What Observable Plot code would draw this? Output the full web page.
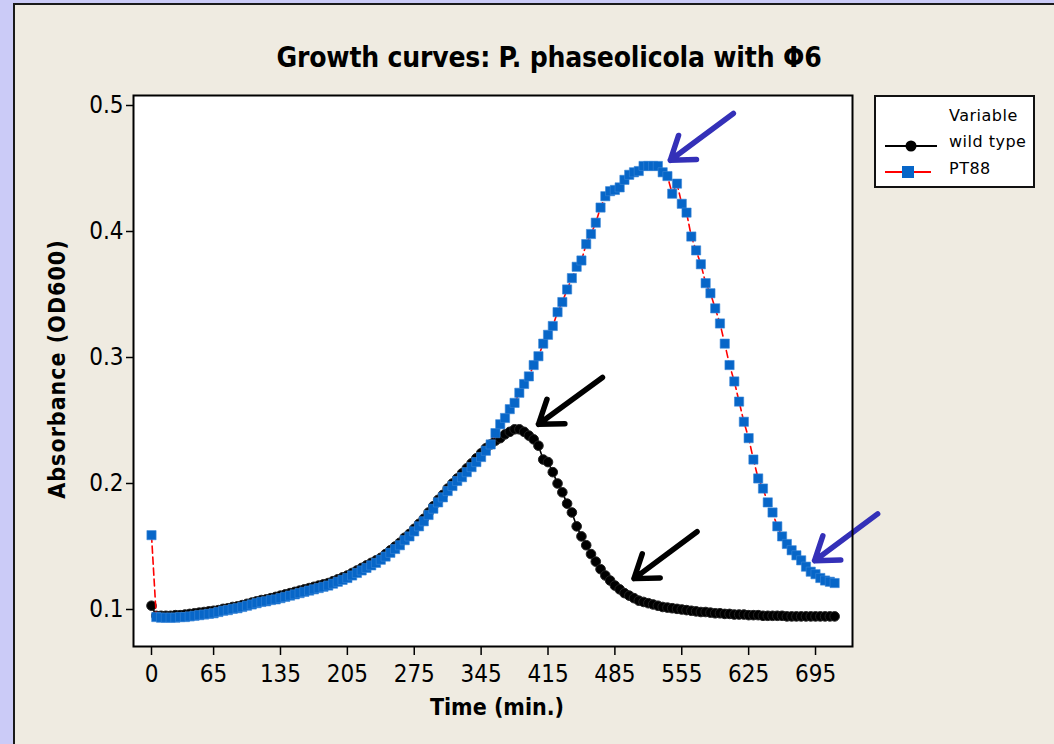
<!DOCTYPE html>
<html>
<head>
<meta charset="utf-8">
<script src="https://cdn.jsdelivr.net/npm/d3@7"></script>
<script src="https://cdn.jsdelivr.net/npm/@observablehq/plot@0.6"></script>
<style>
  html, body { margin: 0; padding: 0; }
  body { width: 1054px; height: 744px; background: #cbcbf7; position: relative; overflow: hidden;
         font-family: "DejaVu Sans Condensed", "DejaVu Sans", sans-serif; }
  #panel { position: absolute; left: 13px; top: 3px; right: 0; bottom: 0; background: #efebe1;
           border-left: 2px solid #1a1a1a; border-top: 2px solid #1a1a1a; }
  #chart { position: absolute; left: 0; top: 0; }
  .title { position: absolute; left: 0; width: 1098px; top: 41px; text-align: center;
           font-weight: bold; font-size: 28px; color: #000; letter-spacing: -0.2px; }
  .xlab { position: absolute; left: 392px; width: 210px; top: 694px; text-align: center;
          font-weight: bold; font-size: 23px; }
  .ylab { position: absolute; left: 57px; top: 369px; transform: translate(-50%, -50%) rotate(-90deg);
          font-weight: bold; font-size: 23px; white-space: nowrap; letter-spacing: 1px; }
  #legend { position: absolute; left: 874px; top: 95px; width: 157px; height: 89px; background: #fff;
            border: 2px solid #111; font-family: "DejaVu Sans", sans-serif; font-size: 16px; }
  #legend svg { position: absolute; left: 9px; }
  #legend .lt { position: absolute; left: 73px; white-space: nowrap; letter-spacing: 0.5px; }
</style>
</head>
<body>
<div id="panel"></div>
<div id="chart"></div>
<div class="title">Growth curves: P. phaseolicola with Φ6</div>
<div class="xlab">Time (min.)</div>
<div class="ylab">Absorbance (OD600)</div>
<div id="legend"></div>
<script>
// ---- data ----
const times = [
  0, 5, 10, 15, 20, 25, 30, 35, 40, 45, 50, 55,
  60, 65, 70, 75, 80, 85, 90, 95, 100, 105, 110, 115,
  120, 125, 130, 135, 140, 145, 150, 155, 160, 165, 170, 175,
  180, 185, 190, 195, 200, 205, 210, 215, 220, 225, 230, 235,
  240, 245, 250, 255, 260, 265, 270, 275, 280, 285, 290, 295,
  300, 305, 310, 315, 320, 325, 330, 335, 340, 345, 350, 355,
  360, 365, 370, 375, 380, 385, 390, 395, 400, 405, 410, 415,
  420, 425, 430, 435, 440, 445, 450, 455, 460, 465, 470, 475,
  480, 485, 490, 495, 500, 505, 510, 515, 520, 525, 530, 535,
  540, 545, 550, 555, 560, 565, 570, 575, 580, 585, 590, 595,
  600, 605, 610, 615, 620, 625, 630, 635, 640, 645, 650, 655,
  660, 665, 670, 675, 680, 685, 690, 695, 700, 705, 710, 715
];
const wildType = [
  0.103, 0.095, 0.095, 0.095, 0.095, 0.0955, 0.0955, 0.096, 0.0965, 0.097, 0.0975, 0.098,
  0.0985, 0.099, 0.0995, 0.1005, 0.101, 0.102, 0.1025, 0.1035, 0.1045, 0.1055, 0.1065, 0.1075,
  0.108, 0.109, 0.110, 0.111, 0.112, 0.113, 0.114, 0.115, 0.116, 0.117, 0.118, 0.119,
  0.120, 0.121, 0.1225, 0.124, 0.1255, 0.127, 0.129, 0.131, 0.133, 0.135, 0.137, 0.139,
  0.141, 0.144, 0.147, 0.150, 0.153, 0.157, 0.160, 0.164, 0.168, 0.172, 0.177, 0.182,
  0.187, 0.191, 0.196, 0.200, 0.204, 0.208, 0.212, 0.216, 0.220, 0.224, 0.228, 0.231,
  0.234, 0.236, 0.239, 0.241, 0.243, 0.243, 0.241, 0.238, 0.235, 0.230, 0.219, 0.217,
  0.209, 0.200, 0.193, 0.184, 0.177, 0.166, 0.158, 0.151, 0.144, 0.138, 0.132, 0.127,
  0.123, 0.119, 0.116, 0.113, 0.111, 0.109, 0.107, 0.106, 0.105, 0.104, 0.103, 0.102,
  0.1015, 0.101, 0.1005, 0.100, 0.0995, 0.099, 0.0985, 0.098, 0.098, 0.0975, 0.097, 0.097,
  0.0965, 0.0965, 0.096, 0.096, 0.096, 0.0955, 0.0955, 0.0955, 0.095, 0.095, 0.095, 0.095,
  0.095, 0.0945, 0.0945, 0.0945, 0.0945, 0.0945, 0.0945, 0.0945, 0.0945, 0.0945, 0.0945, 0.0945
];
const pt88 = [
  0.159, 0.094, 0.0935, 0.0935, 0.0935, 0.0935, 0.094, 0.094, 0.0945, 0.095, 0.0955, 0.096,
  0.0965, 0.097, 0.098, 0.099, 0.0995, 0.1005, 0.101, 0.102, 0.103, 0.104, 0.105, 0.106,
  0.1065, 0.1075, 0.108, 0.109, 0.110, 0.111, 0.112, 0.113, 0.114, 0.115, 0.116, 0.117,
  0.118, 0.119, 0.1205, 0.122, 0.1235, 0.125, 0.127, 0.129, 0.131, 0.133, 0.135, 0.137,
  0.1395, 0.142, 0.145, 0.148, 0.151, 0.155, 0.158, 0.162, 0.166, 0.170, 0.175, 0.180,
  0.185, 0.189, 0.194, 0.198, 0.202, 0.205, 0.209, 0.213, 0.217, 0.221, 0.226, 0.231,
  0.240, 0.247, 0.252, 0.259, 0.264, 0.272, 0.279, 0.285, 0.294, 0.301, 0.311, 0.318,
  0.325, 0.336, 0.344, 0.354, 0.363, 0.372, 0.377, 0.390, 0.398, 0.407, 0.419, 0.428,
  0.432, 0.433, 0.435, 0.441, 0.445, 0.447, 0.448, 0.452, 0.452, 0.452, 0.452, 0.447,
  0.444, 0.430, 0.438, 0.422, 0.415, 0.396, 0.385, 0.374, 0.359, 0.351, 0.339, 0.327,
  0.311, 0.294, 0.281, 0.265, 0.249, 0.236, 0.219, 0.204, 0.196, 0.185, 0.177, 0.166,
  0.158, 0.152, 0.147, 0.143, 0.139, 0.134, 0.130, 0.128, 0.125, 0.123, 0.122, 0.121
];
const xTicks = [0, 65, 135, 205, 275, 345, 415, 485, 555, 625, 695];
const yTicks = [0.1, 0.2, 0.3, 0.4, 0.5];
const seriesNames = ["wild type", "PT88"];
// annotation arrows (tail -> head), in data units
const blueArrows = [
  {x1: 609, y1: 0.4937, x2: 543, y2: 0.4565},
  {x1: 760, y1: 0.1759, x2: 694, y2: 0.1387}
];
const blackArrows = [
  {x1: 472, y1: 0.2842, x2: 405, y2: 0.2470},
  {x1: 571, y1: 0.1617, x2: 505, y2: 0.1245}
];

// ---- build ----
const wt = times.map((t, i) => ({t, v: wildType[i]}));
const pt = times.map((t, i) => ({t, v: pt88[i]}));

const blue = "#0766c8", red = "#ff0000", arrowBlue = "#3430b8";
const font = "'DejaVu Sans Condensed', 'DejaVu Sans', sans-serif";

const chart = Plot.plot({
  width: 1054,
  height: 744,
  marginLeft: 133,
  marginRight: 202,
  marginTop: 95,
  marginBottom: 98,
  style: {background: "transparent", overflow: "visible", fontFamily: font, color: "#000"},
  x: {domain: [-18.84, 733.7]},
  y: {domain: [0.07063, 0.50794]},
  marks: [
    Plot.frame({fill: "white", stroke: null}),
    Plot.axisX({ticks: xTicks, tickSize: 9, tickPadding: 9, fontSize: 24, label: null, tickFormat: d => String(d), strokeWidth: 1.5}),
    Plot.axisY({ticks: yTicks, tickSize: 7, tickPadding: 3, fontSize: 24, label: null, tickFormat: d => d.toFixed(1), strokeWidth: 1.5}),
    Plot.line(wt, {x: "t", y: "v", stroke: "#000", strokeWidth: 1.6}),
    Plot.dot(wt, {x: "t", y: "v", r: 4.8, fill: "#000", stroke: "#222", strokeWidth: 1}),
    Plot.line(pt, {x: "t", y: "v", stroke: red, strokeWidth: 1.6, strokeDasharray: "7,4"}),
    Plot.dot(pt, {x: "t", y: "v", symbol: "square", r: 5.2, fill: blue, stroke: "#3b86d6", strokeWidth: 0.6}),
    Plot.arrow(blueArrows, {x1: "x1", y1: "y1", x2: "x2", y2: "y2", stroke: arrowBlue, strokeWidth: 5.5, headLength: 22, headAngle: 70, clip: false}),
    Plot.arrow(blackArrows, {x1: "x1", y1: "y1", x2: "x2", y2: "y2", stroke: "#000", strokeWidth: 5.5, headLength: 22, headAngle: 70, clip: false}),
    Plot.frame({stroke: "#000", strokeWidth: 2})
  ]
});
document.getElementById("chart").appendChild(chart);

// ---- legend ----
const legend = document.getElementById("legend");
legend.innerHTML = `
  <div class="lt" style="top:9px">Variable</div>
  <div class="lt" style="top:35px">${seriesNames[0]}</div>
  <svg width="56" height="14" style="top:42px"><line x1="0" y1="7" x2="52" y2="7" stroke="#000" stroke-width="2"/><circle cx="26" cy="7" r="5.5" fill="#000"/></svg>
  <div class="lt" style="top:62px">${seriesNames[1]}</div>
  <svg width="56" height="14" style="top:68px"><line x1="0" y1="7" x2="46" y2="7" stroke="${red}" stroke-width="2"/><rect x="17" y="1" width="12" height="12" fill="${blue}"/></svg>
`;
</script>
</body>
</html>
